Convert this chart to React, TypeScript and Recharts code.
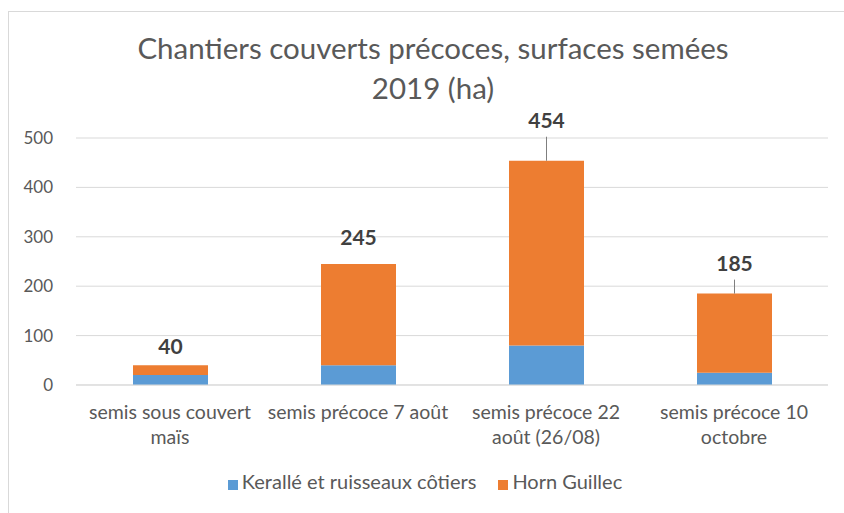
import React from "react";
import {
  BarChart,
  Bar,
  XAxis,
  YAxis,
  CartesianGrid,
  Legend,
  LabelList,
} from "recharts";

const categories = [
  "semis sous couvert\nmaïs",
  "semis précoce 7 août",
  "semis précoce 22\naoût (26/08)",
  "semis précoce 10\noctobre",
];
const kerallé = [20, 40, 80, 25];
const hornGuillec = [20, 205, 374, 160];
const totals = [40, 245, 454, 185];
const yTicks = [0, 100, 200, 300, 400, 500];
const seriesNames = ["Kerallé et ruisseaux côtiers", "Horn Guillec"];

// distance from bar top to label centre, and whether excel drew a leader line
const labelLift = [20, 27, 41, 31];
const leader = [false, false, true, true];

const data = categories.map((name, i) => ({
  name,
  Kerallé: kerallé[i],
  Horn: hornGuillec[i],
  total: totals[i],
}));

const FONT = "Lato, 'Open Sans', sans-serif";
const GREY = "#595959";

const CategoryTick = (props: any) => {
  const { x, y, payload } = props;
  const lines = String(payload.value).split("\n");
  return (
    <g>
      {lines.map((l, i) => (
        <text
          key={i}
          x={x}
          y={y + 18 + i * 25}
          textAnchor="middle"
          dominantBaseline="central"
          fill={GREY}
          fontSize={19.5}
          fontFamily={FONT}
        >
          {l}
        </text>
      ))}
    </g>
  );
};

const TotalLabel = (props: any) => {
  const { x, y, width, index } = props;
  const cx = x + width / 2;
  const cy = y - labelLift[index];
  return (
    <g>
      {leader[index] && (
        <line x1={cx} x2={cx} y1={cy + 17} y2={y} stroke="#7f7f7f" strokeWidth={1} />
      )}
      <text
        x={cx}
        y={cy}
        textAnchor="middle"
        dominantBaseline="central"
        fill="#404040"
        fontWeight="bold"
        fontSize={21}
        fontFamily={FONT}
      >
        {totals[index]}
      </text>
    </g>
  );
};

export default function App() {
  return (
    <div
      style={{
        position: "absolute",
        left: 0,
        top: 0,
        width: 844,
        height: 513,
        background: "#fff",
        overflow: "hidden",
        fontFamily: FONT,
      }}
    >
      <div
        style={{
          position: "absolute",
          left: 8,
          top: 11,
          width: 836,
          height: 502,
          borderLeft: "1px solid #d9d9d9",
          borderTop: "1px solid #d9d9d9",
        }}
      />
      <div
        style={{
          position: "absolute",
          left: 0,
          top: 28,
          width: 866,
          textAlign: "center",
          fontSize: 29.5,
          lineHeight: "40px",
          color: GREY,
        }}
      >
        Chantiers couverts précoces, surfaces semées
        <br />
        2019 (ha)
      </div>
      <div style={{ position: "absolute", left: 0, top: 0 }}>
        <BarChart
          width={844}
          height={513}
          data={data}
          margin={{ top: 138, right: 16, left: 16, bottom: 40 }}
          barSize={75}
        >
          <CartesianGrid vertical={false} stroke="#d9d9d9" />
          <XAxis
            dataKey="name"
            axisLine={{ stroke: "#d9d9d9" }}
            tickLine={false}
            height={58}
            interval={0}
            tick={<CategoryTick />}
          />
          <YAxis
            domain={[0, 500]}
            ticks={yTicks}
            width={60}
            axisLine={false}
            tickLine={false}
            tickMargin={17}
            tick={{ fill: GREY, fontSize: 17, fontFamily: FONT }}
          />
          <Legend
            verticalAlign="bottom"
            height={30}
            iconType="square"
            iconSize={10}
            wrapperStyle={{ bottom: 14, paddingLeft: 8 }}
            itemSorter={(item: any) => seriesNames.indexOf(item.value)}
            formatter={(value: string, _entry: any, index: number) => (
              <span
                style={{
                  color: GREY,
                  fontSize: 20,
                  fontFamily: FONT,
                  paddingRight: index === 0 ? 12 : 0,
                }}
              >
                {value}
              </span>
            )}
          />
          <Bar
            dataKey="Kerallé"
            name={seriesNames[0]}
            stackId="a"
            fill="#5B9BD5"
            isAnimationActive={false}
          />
          <Bar
            dataKey="Horn"
            name={seriesNames[1]}
            stackId="a"
            fill="#ED7D31"
            isAnimationActive={false}
          >
            <LabelList dataKey="total" content={<TotalLabel />} />
          </Bar>
        </BarChart>
      </div>
    </div>
  );
}
